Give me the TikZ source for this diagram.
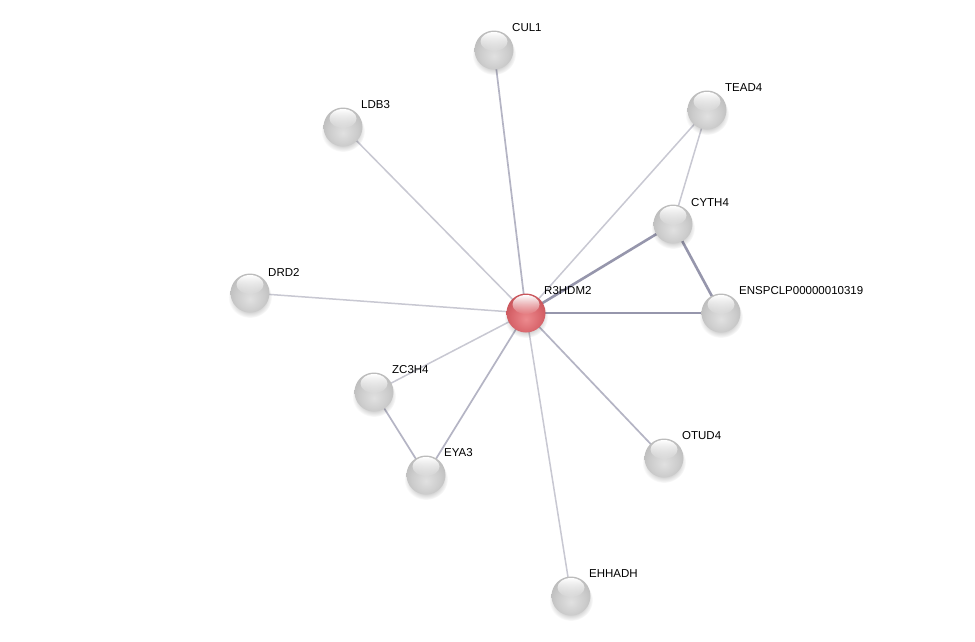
\documentclass[tikz,border=0pt]{standalone}
\usepackage{fontspec}
\setmainfont{Liberation Sans}
\usetikzlibrary{shadings,fadings}
\definecolor{edgelight}{HTML}{C8C8D2}
\definecolor{edgemid}{HTML}{B4B4C4}
\definecolor{edgedark}{HTML}{9696AC}
\pgfdeclareradialshading{ballgray}{\pgfpoint{0bp}{-8bp}}{%
  color(0bp)=(white!88!black); color(18bp)=(white!80!black);
  color(32bp)=(white!72!black); color(42bp)=(white!62!black);
  color(50bp)=(white!50!black); color(62bp)=(white!42!black)}
\definecolor{rA}{RGB}{236,138,142}
\definecolor{rB}{RGB}{218,104,110}
\definecolor{rC}{RGB}{196,80,86}
\definecolor{rD}{RGB}{160,52,58}
\definecolor{rE}{RGB}{125,36,40}
\pgfdeclareradialshading{ballred}{\pgfpoint{0bp}{-8bp}}{%
  color(0bp)=(rA); color(18bp)=(rB);
  color(32bp)=(rC); color(42bp)=(rD);
  color(50bp)=(rE); color(62bp)=(rE)}
\tikzfading[name=hlfade, top color=transparent!0, bottom color=transparent!100]
\tikzfading[name=softshadow, inner color=transparent!40, outer color=transparent!100]
\tikzset{
  prot/.style={circle, minimum size=39pt, inner sep=0pt, shading=ballgray},
  query/.style={circle, minimum size=39pt, inner sep=0pt, shading=ballred},
  lab/.style={anchor=west, inner sep=0pt, font=\fontsize{11.5}{13}\selectfont},
  thin/.style={draw=edgelight, line width=1.5pt},
  mid/.style={draw=edgemid, line width=1.7pt},
  thick/.style={draw=edgedark, line width=2.6pt}
}
\begin{document}
\begin{tikzpicture}[x=1pt,y=-1pt]
\useasboundingbox (0,0) rectangle (975,641);
\fill[white] (0,0) rectangle (975,641);
% coordinates of node centres
\coordinate (cCUL1) at (494,50);
\coordinate (cLDB3) at (343,127);
\coordinate (cTEAD4) at (707,110);
\coordinate (cCYTH4) at (673,224);
\coordinate (cDRD2) at (250,293);
\coordinate (cR3) at (526,313);
\coordinate (cENSP) at (721,313);
\coordinate (cZC3H4) at (374,392);
\coordinate (cEYA3) at (426,475);
\coordinate (cOTUD4) at (664,458);
\coordinate (cEHHADH) at (571,596);
% edges
\draw[mid] (cR3) -- (cCUL1);
\draw[thin] (cR3) -- (cLDB3);
\draw[thin] (cR3) -- (cTEAD4);
\draw[thick] (cR3) -- (cCYTH4);
\draw[thin] (cR3) -- (cDRD2);
\draw[thick] (cR3) -- (cENSP);
\draw[thin] (cR3) -- (cZC3H4);
\draw[mid] (cR3) -- (cEYA3);
\draw[mid] (cR3) -- (cOTUD4);
\draw[thin] (cR3) -- (cEHHADH);
\draw[thin] (cTEAD4) -- (cCYTH4);
\draw[thick] (cCYTH4) -- (cENSP);
\draw[mid] (cZC3H4) -- (cEYA3);
% shadows
\foreach \c in {cCUL1,cLDB3,cTEAD4,cCYTH4,cDRD2,cR3,cENSP,cZC3H4,cEYA3,cOTUD4,cEHHADH}{
  \fill[black, path fading=softshadow] ([yshift=-4pt]\c) ellipse (22pt and 21pt);
}
% nodes
\node[prot] (CUL1) at (cCUL1) {};
\node[prot] (LDB3) at (cLDB3) {};
\node[prot] (TEAD4) at (cTEAD4) {};
\node[prot] (CYTH4) at (cCYTH4) {};
\node[prot] (DRD2) at (cDRD2) {};
\node[query] (R3) at (cR3) {};
\node[prot] (ENSP) at (cENSP) {};
\node[prot] (ZC3H4) at (cZC3H4) {};
\node[prot] (EYA3) at (cEYA3) {};
\node[prot] (OTUD4) at (cOTUD4) {};
\node[prot] (EHHADH) at (cEHHADH) {};
% highlights
\foreach \n in {CUL1,LDB3,TEAD4,CYTH4,DRD2,R3,ENSP,ZC3H4,EYA3,OTUD4,EHHADH}{
  \fill[white, path fading=hlfade] ([yshift=8.5pt]\n.center) ellipse (13.5pt and 9.5pt);
}
% labels
\node[lab] (lCUL1) at ([shift={(18,-22)}]cCUL1) {CUL1};
\node[lab] (lLDB3) at ([shift={(18,-22)}]cLDB3) {LDB3};
\node[lab] (lTEAD4) at ([shift={(18,-22)}]cTEAD4) {TEAD4};
\node[lab] (lCYTH4) at ([shift={(18,-21)}]cCYTH4) {CYTH4};
\node[lab] (lDRD2) at ([shift={(18,-21)}]cDRD2) {DRD2};
\node[lab] (lR3) at ([shift={(18,-22)}]cR3) {R3HDM2};
\node[lab] (lENSP) at ([shift={(18,-22)}]cENSP) {ENSPCLP00000010319};
\node[lab] (lZC3H4) at ([shift={(18,-22)}]cZC3H4) {ZC3H4};
\node[lab] (lEYA3) at ([shift={(18,-22)}]cEYA3) {EYA3};
\node[lab] (lOTUD4) at ([shift={(18,-22)}]cOTUD4) {OTUD4};
\node[lab] (lEHHADH) at ([shift={(18,-22)}]cEHHADH) {EHHADH};
\end{tikzpicture}
\end{document}
